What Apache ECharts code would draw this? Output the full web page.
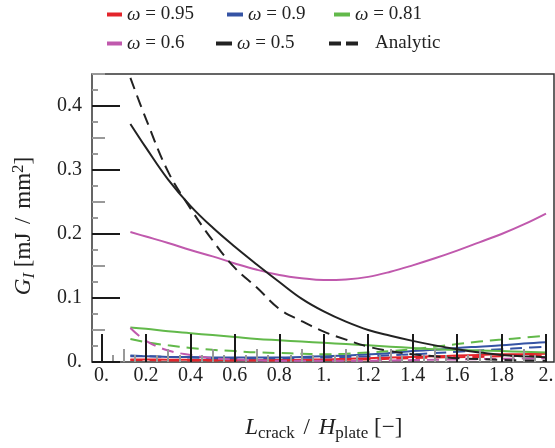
<!DOCTYPE html>
<html><head><meta charset="utf-8">
<script src="https://cdn.jsdelivr.net/npm/echarts@6/dist/echarts.min.js"></script>
<style>html,body{margin:0;padding:0;background:#fff}#c{width:555px;height:448px}</style>
</head><body><div id="c"></div>
<script>
const xs = [0.13,0.2,0.3,0.4,0.5,0.6,0.7,0.8,0.9,1.0,1.1,1.2,1.3,1.4,1.5,1.6,1.7,1.8,1.9,2.0];
const w095 = [0.004,0.004,0.0035,0.0035,0.003,0.003,0.003,0.003,0.0035,0.004,0.005,0.006,0.007,0.008,0.009,0.010,0.011,0.012,0.0125,0.013];
const w095a = [0.003,0.003,0.0025,0.0025,0.0025,0.0025,0.0025,0.0025,0.003,0.003,0.0035,0.004,0.005,0.006,0.007,0.0075,0.008,0.009,0.0095,0.010];
const w09 = [0.009,0.009,0.008,0.008,0.007,0.007,0.007,0.007,0.008,0.009,0.010,0.012,0.014,0.017,0.019,0.022,0.024,0.026,0.029,0.031];
const w09a = [0.010,0.009,0.008,0.007,0.006,0.006,0.006,0.006,0.0065,0.007,0.008,0.009,0.0105,0.012,0.014,0.016,0.018,0.020,0.022,0.024];
const w081 = [0.054,0.052,0.048,0.045,0.042,0.039,0.036,0.034,0.032,0.030,0.028,0.026,0.024,0.022,0.020,0.019,0.018,0.017,0.016,0.015];
const w081a = [0.036,0.031,0.026,0.022,0.019,0.017,0.015,0.014,0.013,0.012,0.013,0.015,0.017,0.020,0.024,0.028,0.032,0.035,0.038,0.041];
const w06 = [0.203,0.196,0.186,0.175,0.165,0.154,0.144,0.136,0.131,0.128,0.129,0.133,0.141,0.151,0.162,0.174,0.187,0.200,0.215,0.232];
const w06a = [0.053,0.033,0.018,0.011,0.006,0.004,0.003,0.002,0.002,0.002,0.002,0.002,0.0025,0.003,0.0035,0.004,0.0045,0.005,0.0055,0.006];
const w05 = [0.372,0.335,0.285,0.244,0.210,0.180,0.152,0.125,0.099,0.079,0.063,0.050,0.041,0.033,0.026,0.020,0.015,0.011,0.009,0.0075];
const analytic = [0.444,0.380,0.297,0.240,0.190,0.147,0.116,0.083,0.064,0.0475,0.035,0.024,0.017,0.012,0.009,0.006,0.0045,0.0033,0.0025,0.002];
const xTicks = [0,0.2,0.4,0.6,0.8,1.0,1.2,1.4,1.6,1.8,2.0];
const yTicks = [0,0.1,0.2,0.3,0.4];

const FF = 'Liberation Serif';
const TXT = '#222';
const C = {red:'#e3242b', blue:'#3553a4', green:'#62b94a', mag:'#c059ad', black:'#222'};

function pts(v){ return xs.map((x,i)=>[x,v[i]]); }
function fmtNum(v){
  const r = Math.round(v*1000)/1000;
  if (Math.abs(r - Math.round(r)) < 1e-9) return Math.round(r) + '.';
  return r.toFixed(1);
}
function line(name, data, color, dashed){
  return {name, type:'line', xAxisIndex:3, yAxisIndex:3, data:pts(data), showSymbol:false, symbol:'none',
    smooth:0.4, color, itemStyle:{color},
    lineStyle:{color, width:2, type: dashed ? [12,7] : 'solid'}, z:2, animation:false};
}
const rich = {
  i:{fontFamily:FF,fontSize:19,fontStyle:'italic',color:TXT},
  n:{fontFamily:FF,fontSize:19,color:TXT},
  a:{fontFamily:FF,fontSize:19,color:TXT,padding:[0,0,0,12]}
};
function leg(name,left,top,icon,w){
  return {data:[name], left, top, padding:0, itemWidth:w||15, itemHeight:4, icon:icon||'rect', selectedMode:false,
    textStyle:{fontFamily:FF,fontSize:19,color:TXT,rich},
    formatter: n => n==='Analytic' ? '{a|Analytic}' : '{i|ω}{n| ' + n.slice(2) + '}'};
}
const grayTick = (len)=>({show:true, inside:true, length:len, lineStyle:{color:'#999', width:2}});
const blackTick = (vals)=>({show:true, inside:true, length:28, customValues:vals, lineStyle:{color:'#1a1a1a', width:2}});
const noLine = {show:false, onZero:false};
const noSplit = {show:false};
const NF = 23, SF = 17;
const nameRich = {
  i:{fontFamily:FF,fontSize:NF,fontStyle:'italic',color:TXT,lineHeight:28,verticalAlign:'middle'},
  n:{fontFamily:FF,fontSize:NF,color:TXT,lineHeight:28,verticalAlign:'middle'},
  sl:{fontFamily:FF,fontSize:NF,color:TXT,lineHeight:28,verticalAlign:'middle',padding:[0,3,0,3]},
  s:{fontFamily:FF,fontSize:SF,color:TXT,lineHeight:18,verticalAlign:'bottom'},
  si:{fontFamily:FF,fontSize:SF,fontStyle:'italic',color:TXT,lineHeight:18,verticalAlign:'bottom'},
  p:{fontFamily:FF,fontSize:SF,color:TXT,lineHeight:16,verticalAlign:'top'}
};

const option = {
  animation:false,
  backgroundColor:'#fff',
  grid:[
    {left:92, right:1, top:74, bottom:86, show:true, borderColor:'#333', borderWidth:1.5, backgroundColor:'transparent', outerBoundsMode:'none', containLabel:false},
    {left:101.5, right:9, top:74, bottom:86, outerBoundsMode:'none', containLabel:false}
  ],
  legend:[
    leg('ω = 0.95',107,5),
    leg('ω = 0.9',227,5,'rect',16),
    leg('ω = 0.81',334,5,'rect',16),
    leg('ω = 0.6',107,34),
    leg('ω = 0.5',216,34,'rect',16),
    leg('Analytic',329,34,'path://M0,0h12v4h-12z M17,0h12v4h-12z',29)
  ],
  xAxis:[
    {gridIndex:0, type:'value', position:'bottom', min:-0.04, max:2.036, show:false},
    {gridIndex:1, type:'value', position:'bottom', offset:0, min:0, max:2, interval:0.05, axisLine:noLine, axisTick:grayTick(7), axisLabel:{show:false}, splitLine:noSplit, z:10},
    {gridIndex:1, type:'value', position:'bottom', offset:0, min:0, max:2, interval:0.1, axisLine:noLine, axisTick:grayTick(13), axisLabel:{show:false}, splitLine:noSplit, z:11},
    {gridIndex:1, type:'value', position:'bottom', offset:0, min:0, max:2, interval:0.2, axisLine:noLine, axisTick:blackTick(xTicks), splitLine:noSplit, z:12,
      axisLabel:{show:true, margin:4, fontFamily:FF, fontSize:20, color:TXT, formatter:fmtNum, customValues:xTicks},
      name:'{i|L}{s|crack}{sl| / }{i|H}{s|plate}{n| [−]}', nameLocation:'middle', nameGap:52,
      nameTextStyle:{fontFamily:FF,fontSize:NF,color:TXT,rich:nameRich}}
  ],
  yAxis:[
    {gridIndex:0, type:'value', position:'left', offset:0, min:0, max:0.45, interval:0.025, axisLine:noLine, axisTick:grayTick(6), axisLabel:{show:false}, splitLine:noSplit, z:10},
    {gridIndex:0, type:'value', position:'left', offset:0, min:0, max:0.45, interval:0.05, axisLine:noLine, axisTick:grayTick(13), axisLabel:{show:false}, splitLine:noSplit, z:11},
    {gridIndex:0, type:'value', position:'left', offset:0, min:0, max:0.45, interval:0.1, axisLine:noLine, axisTick:blackTick(yTicks), splitLine:noSplit, z:12,
      axisLabel:{show:true, margin:10, fontFamily:FF, fontSize:20, color:TXT, customValues:yTicks, formatter:fmtNum},
      name:'{i|G}{si|I}{n| [mJ}{sl| / }{n|mm}{p|2}{n|]}', nameLocation:'middle', nameGap:54,
      nameTextStyle:{fontFamily:FF,fontSize:NF,color:TXT,rich:nameRich,padding:[0,16,0,0]}},
    {gridIndex:1, type:'value', position:'left', min:0, max:0.45, show:false, splitLine:noSplit}
  ],
  series:[
    line('ω = 0.95', w095, C.red, false),
    line('a095', w095a, C.red, true),
    line('ω = 0.9', w09, C.blue, false),
    line('a09', w09a, C.blue, true),
    line('ω = 0.81', w081, C.green, false),
    line('a081', w081a, C.green, true),
    line('ω = 0.6', w06, C.mag, false),
    line('a06', w06a, C.mag, true),
    line('ω = 0.5', w05, C.black, false),
    line('Analytic', analytic, C.black, true)
  ]
};
const chart = echarts.init(document.getElementById('c'), null, {renderer:'canvas'});
chart.setOption(option);
</script></body></html>
